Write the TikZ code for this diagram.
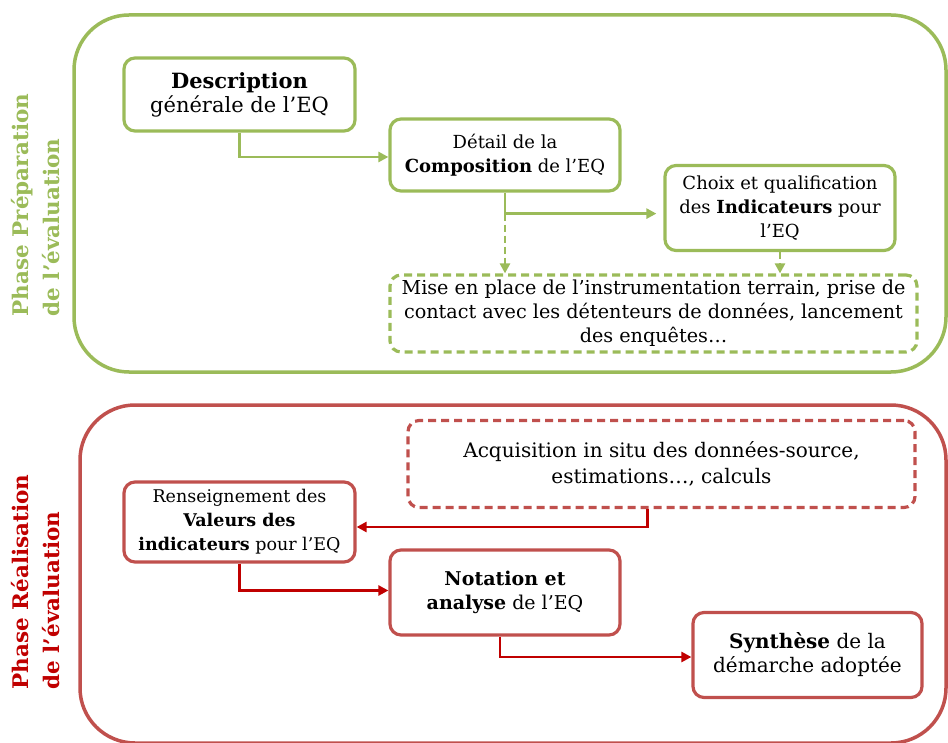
\documentclass[tikz,border=0pt]{standalone}
\usepackage{fontspec}
\setmainfont{DejaVu Serif}
\usetikzlibrary{arrows.meta}
\definecolor{gr}{HTML}{9BBB59}
\definecolor{rdb}{HTML}{C0504D}
\definecolor{rda}{HTML}{C00000}
\tikzset{
  frame/.style={draw, line width=3.5pt, rounded corners=55pt},
  gbox/.style={draw=gr, line width=3.2pt, rounded corners=11pt, align=center, inner sep=0pt, text=black},
  rbox/.style={draw=rdb, line width=3.2pt, rounded corners=11pt, align=center, inner sep=0pt, text=black},
  dashbox/.style={dash pattern=on 8pt off 5pt},
  dashcon/.style={dash pattern=on 7pt off 4pt},
  gcon/.style={draw=gr, line width=2.8pt, -{Triangle[length=10pt,width=10pt]}},
  rcon/.style={draw=rda, line width=2.8pt, -{Triangle[length=10pt,width=10pt]}},
  sidelab/.style={rotate=90, align=left, font=\fontsize{21.5}{31}\selectfont\bfseries},
  fs/.style={font=\fontsize{#1}{24}\selectfont},
}
\begin{document}
\begin{tikzpicture}[x=1pt,y=-1pt]
\useasboundingbox (0,0) rectangle (948,743);
% frames
\node[frame, draw=gr, minimum width=872pt, minimum height=357pt] (frameA) at (510,193.5) {};
\node[frame, draw=rdb, minimum width=866pt, minimum height=338pt] (frameB) at (513,574) {};
\node[sidelab, text=gr] (labA) at (36,205) {Phase Préparation\\de l’évaluation};
\node[sidelab, text=rda] (labB) at (36,582) {Phase Réalisation\\de l’évaluation};
% green boxes
\node[gbox, fs=21, minimum width=231pt, minimum height=73pt] (desc) at (239.5,94.5) {\textbf{Description}\\générale de l’EQ};
\node[gbox, fs=18, minimum width=230pt, minimum height=72pt] (det) at (505,155) {Détail de la\\\textbf{Composition} de l’EQ};
\node[gbox, fs=18, minimum width=230pt, minimum height=85pt] (cho) at (780,208) {Choix et qualification\\des \textbf{Indicateurs} pour\\l’EQ};
\node[gbox, dashbox, fs=19.2, minimum width=527pt, minimum height=77pt] (mise) at (653.5,313.5) {Mise en place de l’instrumentation terrain, prise de\\contact avec les détenteurs de données, lancement\\des enquêtes…};
% red boxes
\node[rbox, dashbox, font=\fontsize{20}{26}\selectfont, minimum width=507pt, minimum height=87pt] (acq) at (661.5,464) {Acquisition in situ des données-source,\\estimations…, calculs};
\node[rbox, fs=17.5, minimum width=231pt, minimum height=80pt] (ren) at (239.5,522) {Renseignement des\\\textbf{Valeurs des}\\\textbf{indicateurs} pour l’EQ};
\node[rbox, fs=19, minimum width=230pt, minimum height=85pt] (not) at (505,592.5) {\textbf{Notation et}\\\textbf{analyse} de l’EQ};
\node[rbox, fs=20, minimum width=229pt, minimum height=85pt] (syn) at (807.5,655) {\textbf{Synthèse} de la\\démarche adoptée};
% green connectors
\draw[gcon] (desc.south) |- ([yshift=-2pt]det.west);
\coordinate (j1) at ([yshift=-21pt]det.south);
\draw[gcon, shorten >=7pt] (det.south) -- (j1) -- (j1 -| cho.west);
\draw[gcon, dashcon] (j1) -- (j1 |- mise.north);
\draw[gcon, dashcon] (cho.south) -- (cho.south |- mise.north);
% red connectors
\draw[rcon] ([xshift=-14pt]acq.south) |- ([yshift=-5pt]ren.east);
\draw[rcon] (ren.south) |- ([yshift=2pt]not.west);
\draw[rcon] ([xshift=-5pt]not.south) |- ([yshift=-2pt]syn.west);
\end{tikzpicture}
\end{document}
